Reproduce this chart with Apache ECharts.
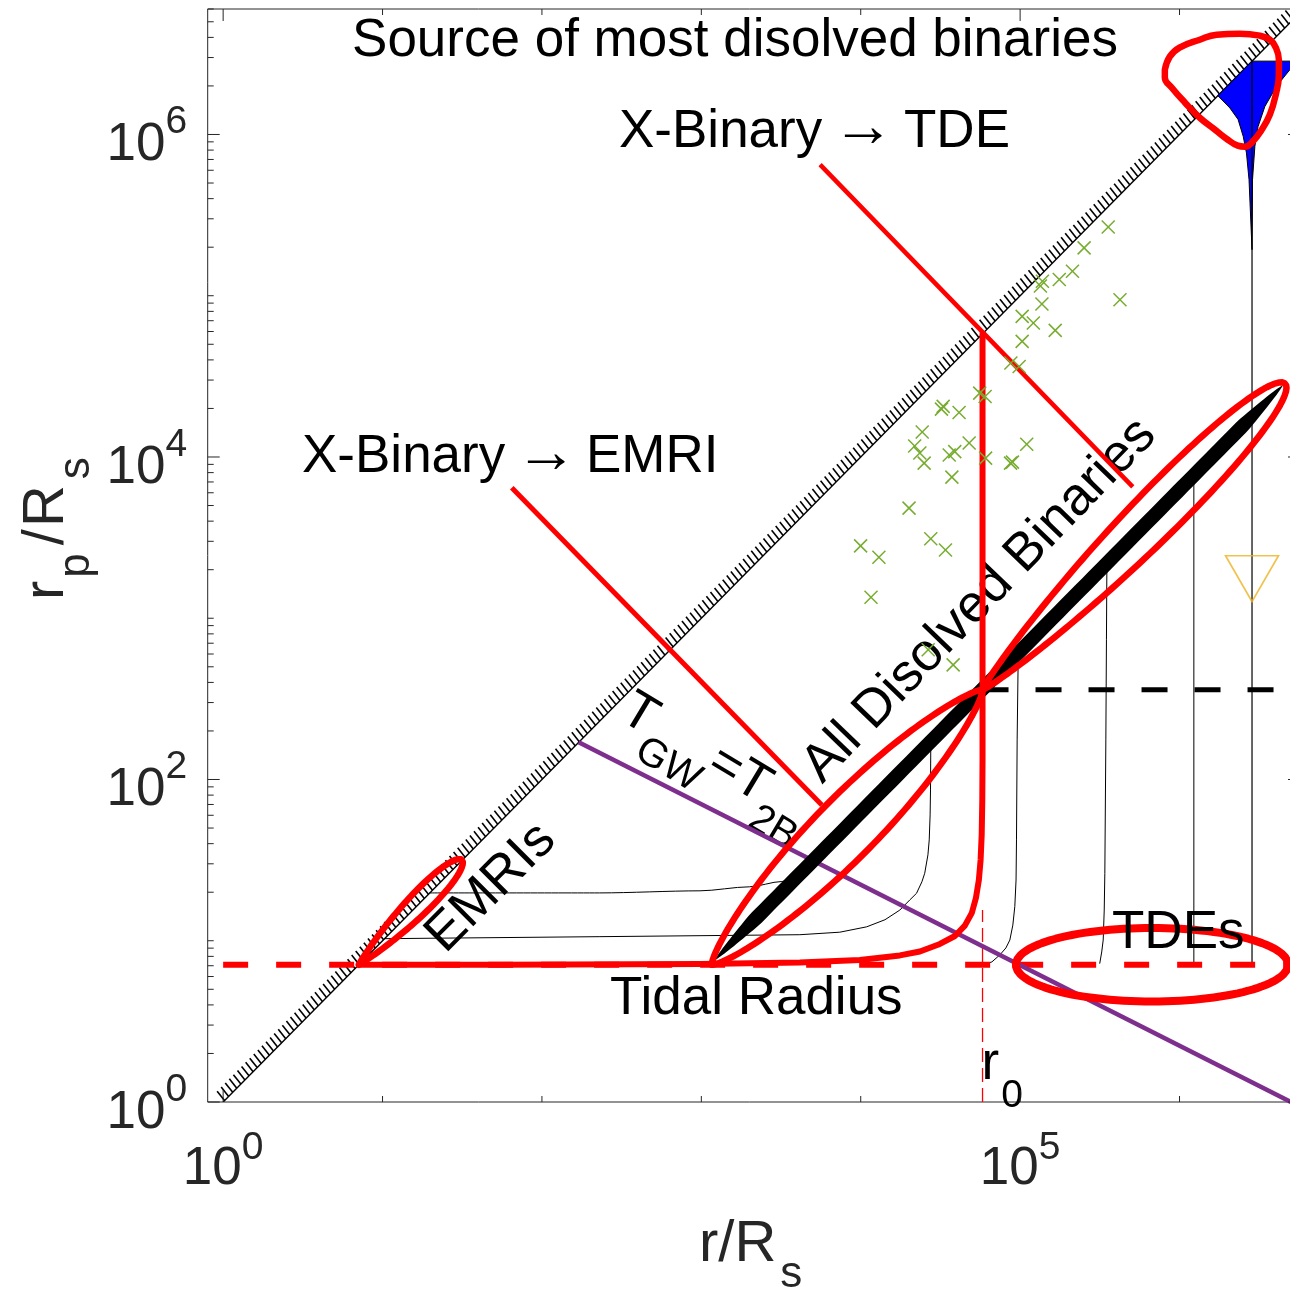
<!DOCTYPE html>
<html lang="en">
<head>
<meta charset="utf-8">
<title>Binary disruption regimes</title>
<script src="https://cdn.jsdelivr.net/npm/echarts/dist/echarts.min.js"></script>
<style>
  html, body { margin: 0; padding: 0; background: #ffffff; }
  #chart { width: 1290px; height: 1291px; }
</style>
</head>
<body>
<div id="chart"></div>
<script>
// ---------- axes ----------
const xRange = [0.8, 5.7e6];          // r / R_s
const yRange = [1, 6e6];              // r_p / R_s
const xTickValues = [1, 10, 100, 1e3, 1e4, 1e5, 1e6];
const xMajorTicks = [1, 1e5];
const xTickLabels = [[1, '0'], [1e5, '5']];
const yMajorTicks = [1, 100, 1e4, 1e6];
const yTickLabels = [[1, '0'], [100, '2'], [1e4, '4'], [1e6, '6']];

// ---------- reference levels ----------
const tidalRadius = 7.1;
const r0 = 58100;
const dissolvedLevel = 360;
const identityLine = [[1, 1, 6e6, 6e6]];
const gwEqualsTwoBody = [[170, 170], [5e6, 1.0]];

// ---------- observed binaries ----------
const binaryR = [3.57e5, 2.52e5, 2.13e5, 1.76e5, 1.38e5, 1.34e5, 4.23e5, 1.37e5, 1.03e5, 1.21e5,
  1.66e5, 1.03e5, 8.75e4, 9.86e4, 5.58e4, 6.03e4, 3.29e4, 3.21e4, 4.14e4, 2.43e4,
  4.79e4, 1.10e5, 2.18e4, 2.35e4, 3.59e4, 3.89e4, 6.07e4, 2.50e4, 8.71e4, 8.95e4,
  3.73e4, 2.01e4, 2.75e4, 9.98e3, 3.40e4, 1.30e4, 1.16e4, 2.65e4, 3.80e4];
const binaryRp = [2.67e5, 1.98e5, 1.42e5, 1.26e5, 1.23e5, 1.15e5, 9.44e4, 8.89e4, 7.45e4, 6.78e4,
  6.10e4, 5.21e4, 3.83e4, 3.64e4, 2.49e4, 2.37e4, 2.06e4, 1.98e4, 1.89e4, 1.43e4,
  1.22e4, 1.20e4, 1.17e4, 1.06e4, 1.03e4, 1.08e4, 9.84e3, 9.16e3, 9.16e3, 9.29e3,
  7.50e3, 4.82e3, 3.11e3, 2.81e3, 2.65e3, 2.39e3, 1.35e3, 637, 514];

// ---------- trajectories ----------
const trackA = [[19.8, 19.8], [230, 19.8], [980, 20.4], [2000, 21.6], [3200, 23.3], [3600, 24.5]];
const trackB = [[10.3, 10.3], [231, 10.6], [4150, 10.9], [7390, 11.3], [10900, 12.2], [14200, 13.5],
  [17600, 15.5], [20300, 17.9], [22400, 19.7], [24200, 23.2], [25200, 26.2], [26400, 34.1],
  [26900, 42.2], [27250, 60.3], [27400, 86.2], [27500, 153]];
const trackC = [[58100, 7.1], [66500, 7.39], [74600, 8.17], [81400, 9.02], [86200, 10.1], [90000, 12.5],
  [92600, 16.3], [94300, 23.8], [94900, 42.2], [95800, 176], [97200, 552]];
const trackD = [[3.16e5, 7.25], [3.25e5, 8.52], [3.32e5, 10.1], [3.37e5, 15.5], [3.40e5, 26.2],
  [3.45e5, 176], [3.48e5, 735], [3.50e5, 1940]];
const trackE = [[1.23e6, 7.1], [1.23e6, 7150]];
const trackF = [[2.85e6, 7.1], [2.85e6, 2.85e6]];

// ---------- highlighted regions ----------
const dissolveCurve = [[7.1, 7.1], [54, 7.1], [980, 7.18], [4150, 7.33], [9870, 7.6], [17600, 8.11],
  [23500, 8.58], [31400, 9.55], [39000, 10.7], [45000, 12.4], [49800, 14.9], [52800, 18.4], [55100, 23.8],
  [56500, 31.7], [57400, 45.3], [57900, 74.7], [58100, 132], [58100, 58100]];
const pointerTDE = [[5560, 6.5e5], [5.09e5, 6530]];
const pointerEMRI = [[64.7, 6440], [5700, 69.5]];
const r0Marker = [[58100, 1], [58100, 15.5]];
const sourceLoop = [[8.09e5, 2.52e6], [8.69e5, 3.04e6], [1.00e6, 3.46e6], [1.34e6, 3.87e6], [1.71e6, 4.16e6],
  [2.39e6, 4.22e6], [3.19e6, 4.10e6], [3.69e6, 3.87e6], [4.02e6, 3.46e6], [4.20e6, 2.91e6], [4.20e6, 2.35e6],
  [4.02e6, 1.77e6], [3.69e6, 1.33e6], [3.28e6, 1.07e6], [2.84e6, 8.90e5], [2.57e6, 8.40e5], [2.32e6, 8.52e5],
  [2.01e6, 9.28e5], [1.69e6, 1.06e6], [1.34e6, 1.27e6], [1.08e6, 1.58e6], [8.95e5, 1.95e6], [8.09e5, 2.25e6],
  [8.09e5, 2.52e6]];
const funnel = [[1.74e6, 1.74e6], [2.85e6, 2.85e6], [5.7e6, 2.85e6], [5.7e6, 2.67e6], [4.92e6, 2.52e6],
  [4.06e6, 1.99e6], [3.43e6, 1.49e6], [3.11e6, 1.12e6], [2.97e6, 8.44e5], [2.87e6, 5.24e5], [2.85e6, 1.93e5],
  [2.73e6, 5.24e5], [2.63e6, 7.68e5], [2.51e6, 9.73e5], [2.33e6, 1.24e6], [2.07e6, 1.46e6]];
const emriLensEnds = [[7.1, 7.1], [31.5, 31.7]];
const lowerLensEnds = [[1164, 7.1], [58100, 360]];
const upperLensEnds = [[58100, 360], [4.6e6, 2.85e4]];
const bandEnds = [[1215, 7.6], [4.44e6, 2.78e4]];
const tdeOvalX = [9.4e4, 4.8e6];
const tdeOvalY = [4.2, 12.0];
const tdeMarker = [[2.85e6, 1760]];

// ---------- styling ----------
const FONT = '"Liberation Sans", Arial, Helvetica, sans-serif';
const AXIS_COLOR = '#262626';
const RED = '#ff0000', GREEN = '#77ac30', PURPLE = '#7e2f8e', ORANGE = '#edb120', BLUE = '#0000ff';
const HATCH = { spacing: 5.8, length: 12, width: 1.6, dir: [-0.62, -0.785] };

const measureCtx = document.createElement('canvas').getContext('2d');
function textWidth(s, size) { measureCtx.font = size + 'px ' + FONT; return measureCtx.measureText(s).width; }

// text element placed by its baseline
function textEl(x, baseline, s, size, color, align) {
  const a = align || 'left';
  return { type: 'text', x: x, y: baseline - 0.3465 * size, silent: true,
    style: { text: s, font: size + 'px ' + FONT, fill: color, align: a, verticalAlign: 'middle',
      textAlign: a, textVerticalAlign: 'middle' } };
}
// run of tokens [text, size, baselineDrop, gapBefore] along a (possibly rotated) baseline
function textRun(x, y, rotation, tokens, color) {
  let cx = 0;
  const children = tokens.map(t => {
    cx += t[3] || 0;
    const el = textEl(cx, t[2] || 0, t[0], t[1], color, 'left');
    cx += textWidth(t[0], t[1]);
    return el;
  });
  return { type: 'group', x: x, y: y, rotation: rotation, children: children, z: 100 };
}

// closed leaf outline between two ends, width profile in decades
function lensOutline(ends, halfDec, profile, n) {
  const ax = Math.log10(ends[0][0]), ay = Math.log10(ends[0][1]);
  const bx = Math.log10(ends[1][0]), by = Math.log10(ends[1][1]);
  const dx = bx - ax, dy = by - ay, L = Math.hypot(dx, dy);
  const nx = -dy / L, ny = dx / L;
  const upper = [], lower = [];
  for (let i = 0; i <= n; i++) {
    const s = (1 - Math.cos(Math.PI * i / n)) / 2;
    const h = halfDec * profile(s);
    const cx = ax + dx * s, cy = ay + dy * s;
    upper.push([Math.pow(10, cx + nx * h), Math.pow(10, cy + ny * h)]);
    lower.push([Math.pow(10, cx - nx * h), Math.pow(10, cy - ny * h)]);
  }
  return upper.concat(lower.reverse());
}
function tipProfile(pA, pB) {
  const m = pA / (pA + pB);
  const norm = Math.pow(m, pA) * Math.pow(1 - m, pB);
  return s => Math.pow(s, pA) * Math.pow(1 - s, pB) / norm;
}
function taperProfile(t) { return s => Math.pow(Math.min(1, Math.min(s, 1 - s) / t), 0.7); }
function ovalOutline(xs, ys, n) {
  const cx = (Math.log10(xs[0]) + Math.log10(xs[1])) / 2, rx = (Math.log10(xs[1]) - Math.log10(xs[0])) / 2;
  const cy = (Math.log10(ys[0]) + Math.log10(ys[1])) / 2, ry = (Math.log10(ys[1]) - Math.log10(ys[0])) / 2;
  const pts = [];
  for (let i = 0; i <= n; i++) {
    const t = 2 * Math.PI * i / n;
    pts.push([Math.pow(10, cx + rx * Math.cos(t)), Math.pow(10, cy + ry * Math.sin(t))]);
  }
  return pts;
}

function curve(data, color, width, z, extra) {
  const s = { type: 'line', data: data, symbol: 'none', showSymbol: false, silent: true, z: z,
    animation: false, clip: true, lineStyle: { color: color, width: width, cap: 'round', join: 'round' } };
  if (extra) {
    if (extra.lineStyle) Object.assign(s.lineStyle, extra.lineStyle);
    for (const k in extra) if (k !== 'lineStyle') s[k] = extra[k];
  }
  return s;
}
function polygonSeries(points, style, z) {
  return { type: 'custom', data: points, z: z, silent: true, clip: true, animation: false,
    renderItem: function (params, api) {
      if (params.dataIndex !== 0) return null;
      return { type: 'polygon', shape: { points: points.map(p => api.coord(p)) }, style: style };
    } };
}

const lineStyleAxis = { stroke: AXIS_COLOR, lineWidth: 1 };
const yMinorTicks = [];
for (let e = 0; e <= 6; e++) {
  for (let k = 1; k <= 9; k++) {
    const v = k * Math.pow(10, e);
    if (v <= yRange[1] && yMajorTicks.indexOf(v) < 0) yMinorTicks.push(v);
  }
}

const series = [
  // r_p = r boundary with hatching on the forbidden side
  { type: 'custom', data: identityLine, encode: { x: [0, 2], y: [1, 3] }, z: 2, silent: true, clip: true,
    animation: false,
    renderItem: function (params, api) {
      const p0 = api.coord([api.value(0), api.value(1)]);
      const p1 = api.coord([api.value(2), api.value(3)]);
      const dx = p1[0] - p0[0], dy = p1[1] - p0[1], L = Math.hypot(dx, dy);
      const ux = dx / L, uy = dy / L;
      const kids = [{ type: 'line', shape: { x1: p0[0], y1: p0[1], x2: p1[0], y2: p1[1] },
        style: { stroke: '#000', lineWidth: 1.4 } }];
      for (let d = 2; d < L; d += HATCH.spacing) {
        const x = p0[0] + ux * d, y = p0[1] + uy * d;
        kids.push({ type: 'line', shape: { x1: x, y1: y, x2: x + HATCH.dir[0] * HATCH.length, y2: y + HATCH.dir[1] * HATCH.length },
          style: { stroke: '#000', lineWidth: HATCH.width } });
      }
      return { type: 'group', children: kids };
    } },
  // source region of dissolved binaries
  polygonSeries(funnel, { fill: BLUE, stroke: '#000', lineWidth: 1 }, 3),
  // trajectories
  curve(trackA, '#000', 1, 4, { smooth: 0.3, smoothMonotone: 'x' }),
  curve(trackB, '#000', 1, 4),
  curve(trackC, '#000', 1, 4),
  curve(trackD, '#000', 1, 4),
  curve(trackE, '#000', 1, 4),
  curve(trackF, '#000', 1.2, 4),
  // reference levels
  curve([[1, tidalRadius], [xRange[1], tidalRadius]], RED, 6, 5, { lineStyle: { type: [25, 28], cap: 'butt' } }),
  curve([[r0, dissolvedLevel], [xRange[1], dissolvedLevel]], '#000', 5, 5, { lineStyle: { type: [26, 27], cap: 'butt' } }),
  curve(r0Marker, RED, 1.3, 5, { lineStyle: { type: [14, 6], cap: 'butt' } }),
  curve(gwEqualsTwoBody, PURPLE, 4.5, 6, { lineStyle: { cap: 'butt' } }),
  // bundle of dissolved binaries
  polygonSeries(lensOutline(bandEnds, 0.044, taperProfile(0.07), 120), { fill: '#000' }, 7),
  // highlighted red curves
  curve(dissolveCurve, RED, 6, 8),
  curve(pointerTDE, RED, 4.5, 8, { lineStyle: { cap: 'butt' } }),
  curve(pointerEMRI, RED, 5, 8, { lineStyle: { cap: 'butt' } }),
  curve(lensOutline(emriLensEnds, 0.069, tipProfile(0.9, 0.5), 80), RED, 6.5, 8),
  curve(lensOutline(lowerLensEnds, 0.19, tipProfile(0.75, 0.75), 90), RED, 6.5, 8),
  curve(lensOutline(upperLensEnds, 0.15, tipProfile(0.8, 0.5), 90), RED, 6.5, 8),
  curve(ovalOutline(tdeOvalX, tdeOvalY, 120), RED, 8, 8),
  curve(sourceLoop, RED, 6.5, 8, { smooth: 0.45 }),
  // observed binaries
  { type: 'custom', data: binaryR.map((r, i) => [r, binaryRp[i]]), z: 9, silent: true, clip: true, animation: false,
    renderItem: function (params, api) {
      const p = api.coord([api.value(0), api.value(1)]);
      const r = 6.5, st = { stroke: GREEN, lineWidth: 1.5 };
      return { type: 'group', children: [
        { type: 'line', shape: { x1: p[0] - r, y1: p[1] - r, x2: p[0] + r, y2: p[1] + r }, style: st },
        { type: 'line', shape: { x1: p[0] - r, y1: p[1] + r, x2: p[0] + r, y2: p[1] - r }, style: st }
      ] };
    } },
  { type: 'scatter', data: tdeMarker, symbol: 'triangle', symbolRotate: 180, symbolSize: [53, 46], z: 9,
    silent: true, animation: false,
    itemStyle: { color: 'rgba(0,0,0,0)', borderColor: ORANGE, borderWidth: 1.6 } },
  // x ticks (bottom and top, pointing inwards)
  { type: 'custom', data: xTickValues.map(v => [v, yRange[0], xMajorTicks.indexOf(v) >= 0 ? 1 : 0]), z: 10,
    silent: true, clip: false, animation: false,
    renderItem: function (params, api) {
      const v = api.value(0), len = api.value(2) ? 12 : 6;
      const b = api.coord([v, yRange[0]]), t = api.coord([v, yRange[1]]);
      return { type: 'group', children: [
        { type: 'line', shape: { x1: b[0], y1: b[1], x2: b[0], y2: b[1] - len }, style: lineStyleAxis },
        { type: 'line', shape: { x1: t[0], y1: t[1], x2: t[0], y2: t[1] + len }, style: lineStyleAxis }
      ] };
    } },
  // y ticks (left and right, pointing inwards)
  { type: 'custom', data: yMajorTicks.map(v => [xRange[0], v, 1]).concat(yMinorTicks.map(v => [xRange[0], v, 0])),
    z: 10, silent: true, clip: false, animation: false,
    renderItem: function (params, api) {
      const v = api.value(1), len = api.value(2) ? 12 : 6;
      const l = api.coord([xRange[0], v]), r = api.coord([xRange[1], v]);
      return { type: 'group', children: [
        { type: 'line', shape: { x1: l[0], y1: l[1], x2: l[0] + len, y2: l[1] }, style: lineStyleAxis },
        { type: 'line', shape: { x1: r[0], y1: r[1], x2: r[0] - len, y2: r[1] }, style: lineStyleAxis }
      ] };
    } },
  // x tick labels
  { type: 'custom', data: xTickLabels.map(t => [t[0], yRange[0]]), z: 10, silent: true, clip: false, animation: false,
    renderItem: function (params, api) {
      const p = api.coord([api.value(0), yRange[0]]);
      const ex = xTickLabels[params.dataIndex][1];
      const w10 = textWidth('10', 53), we = textWidth(ex, 39);
      const left = p[0] - (w10 + we) / 2;
      return { type: 'group', children: [
        textEl(left, p[1] + 86, '10', 53, AXIS_COLOR, 'left'),
        textEl(left + w10, p[1] + 59.7, ex, 39, AXIS_COLOR, 'left')
      ] };
    } },
  // y tick labels
  { type: 'custom', data: yTickLabels.map(t => [xRange[0], t[0]]), z: 10, silent: true, clip: false, animation: false,
    renderItem: function (params, api) {
      const p = api.coord([xRange[0], api.value(1)]);
      const ex = yTickLabels[params.dataIndex][1];
      const right = p[0] - 20.5, we = textWidth(ex, 39);
      return { type: 'group', children: [
        textEl(right - we, p[1] + 29.3, '10', 53, AXIS_COLOR, 'right'),
        textEl(right, p[1] + 1.3, ex, 39, AXIS_COLOR, 'right')
      ] };
    } }
];

const graphics = [
  textEl(735, 59.3, 'Source of most disolved binaries', 53, '#000', 'center'),
  textEl(619, 150.5, 'X-Binary', 53, '#000', 'left'),
  textEl(863, 150.5, '\u2192', 62, '#000', 'center'),
  textEl(904, 150.5, 'TDE', 53, '#000', 'left'),
  textEl(302, 476, 'X-Binary', 53, '#000', 'left'),
  textEl(546, 476, '\u2192', 62, '#000', 'center'),
  textEl(586, 476, 'EMRI', 53, '#000', 'left'),
  textEl(610, 1018, 'Tidal Radius', 53, '#000', 'left'),
  textEl(1112, 952, 'TDEs', 53, '#000', 'left'),
  textRun(981.6, 1083, 0, [['r', 53], ['0', 39, 27, 2]], '#000'),
  textRun(448, 957, Math.PI / 4, [['EMRIs', 53]], '#000'),
  textRun(825, 787, 46 * Math.PI / 180, [['All Disolved Binaries', 53]], '#000'),
  textRun(616, 722, -31 * Math.PI / 180, [['T', 53], ['GW', 40, 24], ['=', 53], ['T', 53], ['2B', 40, 24]], '#000'),
  // axis titles
  textRun(699, 1265, 0, [['r/R', 58], ['s', 44, 25, 4]], AXIS_COLOR),
  textRun(67, 600, Math.PI / 2, [['r', 58], ['p', 44, 25, 3], ['/', 58, 0, 8], ['R', 58, 0, 2], ['s', 44, 25, 6]], AXIS_COLOR)
];
graphics.forEach(g => { g.z = 100; });

const chart = echarts.init(document.getElementById('chart'), null, { renderer: 'canvas' });
chart.setOption({
  animation: false,
  backgroundColor: '#ffffff',
  grid: { left: 207.7, top: 9, width: 1092.3, height: 1093, show: true, borderColor: AXIS_COLOR, borderWidth: 1,
    backgroundColor: 'rgba(0,0,0,0)', containLabel: false, outerBoundsMode: 'none' },
  xAxis: { type: 'log', logBase: 10, min: xRange[0], max: xRange[1], axisLine: { show: false },
    axisTick: { show: false }, axisLabel: { show: false }, splitLine: { show: false }, minorTick: { show: false } },
  yAxis: { type: 'log', logBase: 10, min: yRange[0], max: yRange[1], axisLine: { show: false },
    axisTick: { show: false }, axisLabel: { show: false }, splitLine: { show: false }, minorTick: { show: false } },
  tooltip: { show: false },
  graphic: { elements: graphics },
  series: series
});
</script>
</body>
</html>
